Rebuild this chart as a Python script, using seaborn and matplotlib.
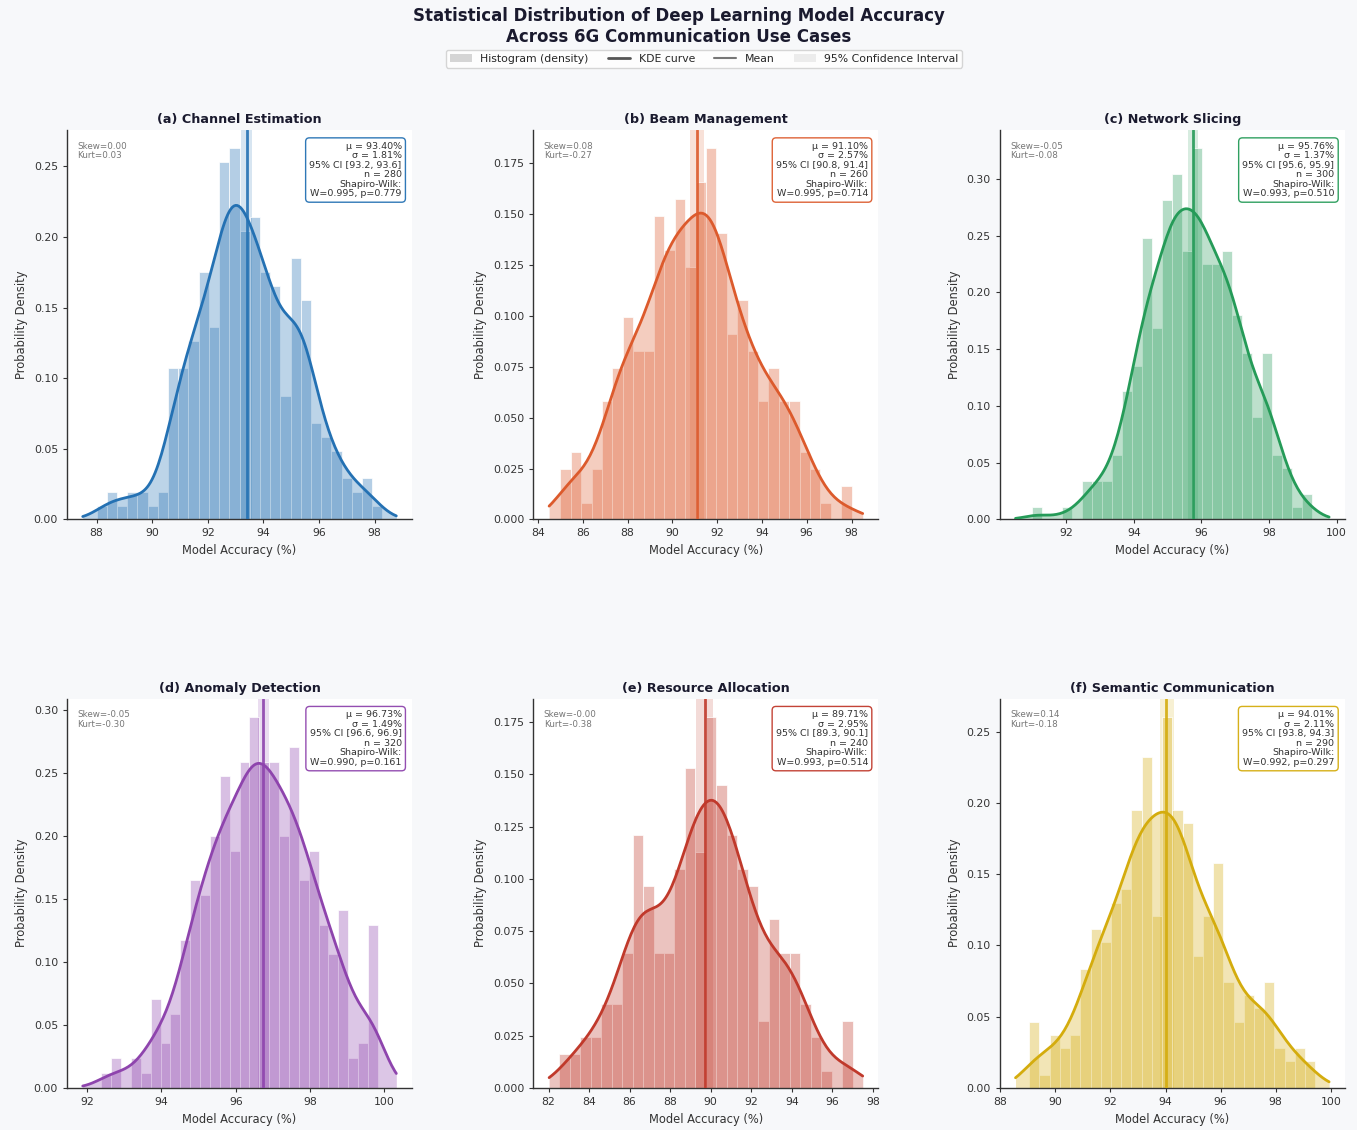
import numpy as np
import matplotlib
matplotlib.use("Agg")
import matplotlib.pyplot as plt
import seaborn as sns
from matplotlib.patches import Patch
from matplotlib.lines import Line2D

# ---------------- data ----------------
titles = ["(a) Channel Estimation", "(b) Beam Management", "(c) Network Slicing",
          "(d) Anomaly Detection", "(e) Resource Allocation", "(f) Semantic Communication"]
colors = ["#2471B3", "#DC5A2C", "#259B58", "#8E44AD", "#C0392B", "#D4AC0D"]

# histogram range (data min / max) and counts in each of the 28 bins
bin_lo = [88.00, 85.00, 91.00, 92.38, 82.53, 89.05]
bin_hi = [98.28, 98.00, 99.28, 99.82, 97.00, 99.44]
counts_a = [1, 2, 1, 2, 2, 1, 2, 11, 11, 13, 18, 14, 26, 27, 21, 22, 18, 17, 9, 19, 16, 7, 6, 5, 3, 2, 3, 1]
counts_b = [3, 4, 1, 3, 7, 9, 12, 10, 10, 18, 16, 19, 15, 20, 22, 17, 11, 13, 10, 7, 9, 7, 7, 4, 3, 1, 0, 2]
counts_c = [1, 0, 0, 1, 0, 3, 3, 3, 5, 10, 12, 22, 15, 25, 27, 21, 29, 20, 20, 21, 16, 13, 8, 13, 5, 4, 1, 2]
counts_d = [1, 2, 0, 2, 1, 6, 3, 5, 10, 14, 13, 17, 21, 16, 22, 25, 22, 22, 17, 23, 14, 16, 11, 9, 12, 2, 3, 11]
counts_e = [2, 2, 3, 3, 5, 5, 8, 15, 12, 8, 8, 13, 19, 14, 22, 18, 15, 13, 12, 4, 10, 8, 8, 5, 3, 1, 0, 4]
counts_f = [5, 1, 4, 3, 4, 9, 12, 11, 14, 15, 21, 25, 13, 28, 21, 20, 10, 13, 17, 8, 5, 7, 6, 8, 3, 2, 3, 2]
all_counts = [counts_a, counts_b, counts_c, counts_d, counts_e, counts_f]

means = [93.40, 91.10, 95.76, 96.73, 89.71, 94.01]
stds = [1.81, 2.57, 1.37, 1.49, 2.95, 2.11]
ci_lo = [93.2, 90.8, 95.6, 96.6, 89.3, 93.8]
ci_hi = [93.6, 91.4, 95.9, 96.9, 90.1, 94.3]
ns = [280, 260, 300, 320, 240, 290]
sw_W = [0.995, 0.995, 0.993, 0.990, 0.993, 0.992]
sw_p = [0.779, 0.714, 0.510, 0.161, 0.514, 0.297]
skews = [0.00, 0.08, -0.05, -0.05, -0.00, 0.14]
kurts = [0.03, -0.27, -0.08, -0.30, -0.38, -0.18]

# ---------------- figure ----------------
sns.set_theme(style="ticks")
plt.rcParams["font.family"] = ["DejaVu Sans"]
bg = "#F7F8FA"
fig, axes = plt.subplots(2, 3, figsize=(13.57, 11.30), dpi=100, facecolor=bg)
fig.subplots_adjust(left=0.0494, right=0.991, bottom=0.0372, top=0.885,
                    wspace=0.352, hspace=0.46)

for i, ax in enumerate(axes.flat):
    color = colors[i]
    counts = np.array(all_counts[i])
    edges = np.linspace(bin_lo[i], bin_hi[i], len(counts) + 1)
    centers = (edges[:-1] + edges[1:]) / 2
    values = np.repeat(centers, counts)
    ax.set_facecolor("white")

    ax.axvspan(ci_lo[i], ci_hi[i], color=color, alpha=0.18, lw=0, zorder=0)
    sns.histplot(x=values, bins=edges, stat="density", color=color, alpha=0.34,
                 edgecolor="white", linewidth=0.5, ax=ax, zorder=1)
    clip = (bin_lo[i] - 0.5, bin_hi[i] + 0.5)
    sns.kdeplot(x=values, fill=True, color=color, alpha=0.3, linewidth=0,
                bw_adjust=0.9, clip=clip, ax=ax, zorder=2)
    sns.kdeplot(x=values, color=color, linewidth=2.0, bw_adjust=0.9, clip=clip,
                ax=ax, zorder=3)
    ax.axvline(means[i], color=color, lw=2.0, alpha=0.9, zorder=4)

    ax.set_title(titles[i], fontsize=9.2, fontweight="bold", color="#1a1a2e", pad=5)
    ax.set_xlabel("Model Accuracy (%)", fontsize=8.3, color="#333333")
    ax.set_ylabel("Probability Density", fontsize=8.3, color="#333333")
    ax.tick_params(labelsize=7.8, colors="#333333", length=3, width=0.8)
    for s in ["left", "bottom"]:
        ax.spines[s].set_color("#333333")
        ax.spines[s].set_linewidth(1.0)
    sns.despine(ax=ax)

    ax.text(0.03, 0.97, f"Skew={skews[i]:.2f}\nKurt={kurts[i]:.2f}",
            transform=ax.transAxes, ha="left", va="top", fontsize=6.3, color="#777777",
            zorder=6, linespacing=1.1)
    stats = (f"μ = {means[i]:.2f}%\nσ = {stds[i]:.2f}%\n"
             f"95% CI [{ci_lo[i]:.1f}, {ci_hi[i]:.1f}]\nn = {ns[i]}\n"
             f"Shapiro-Wilk:\nW={sw_W[i]:.3f}, p={sw_p[i]:.3f}")
    ax.text(0.97, 0.97, stats, transform=ax.transAxes, ha="right", va="top",
            fontsize=6.8, color="#333333", zorder=6, linespacing=1.08,
            bbox=dict(boxstyle="round,pad=0.4", facecolor="white",
                      edgecolor=color, linewidth=1.0, alpha=0.95))

fig.suptitle("Statistical Distribution of Deep Learning Model Accuracy\n"
             "Across 6G Communication Use Cases",
             fontsize=12, fontweight="bold", color="#1a1a2e", y=0.994)

handles = [Patch(facecolor="#bbbbbb", alpha=0.6, edgecolor="none"),
           Line2D([0], [0], color="#555555", lw=2),
           Line2D([0], [0], color="#777777", lw=1.5),
           Patch(facecolor="#dddddd", alpha=0.5, edgecolor="none")]
labels = ["Histogram (density)", "KDE curve", "Mean", "95% Confidence Interval"]
fig.legend(handles, labels, loc="center", bbox_to_anchor=(0.519, 0.948), ncol=4,
           fontsize=7.8, frameon=True, edgecolor="#cccccc", fancybox=True,
           handlelength=2.0, columnspacing=1.8, borderpad=0.35)

fig.savefig("out.png", dpi=100, facecolor=bg)
